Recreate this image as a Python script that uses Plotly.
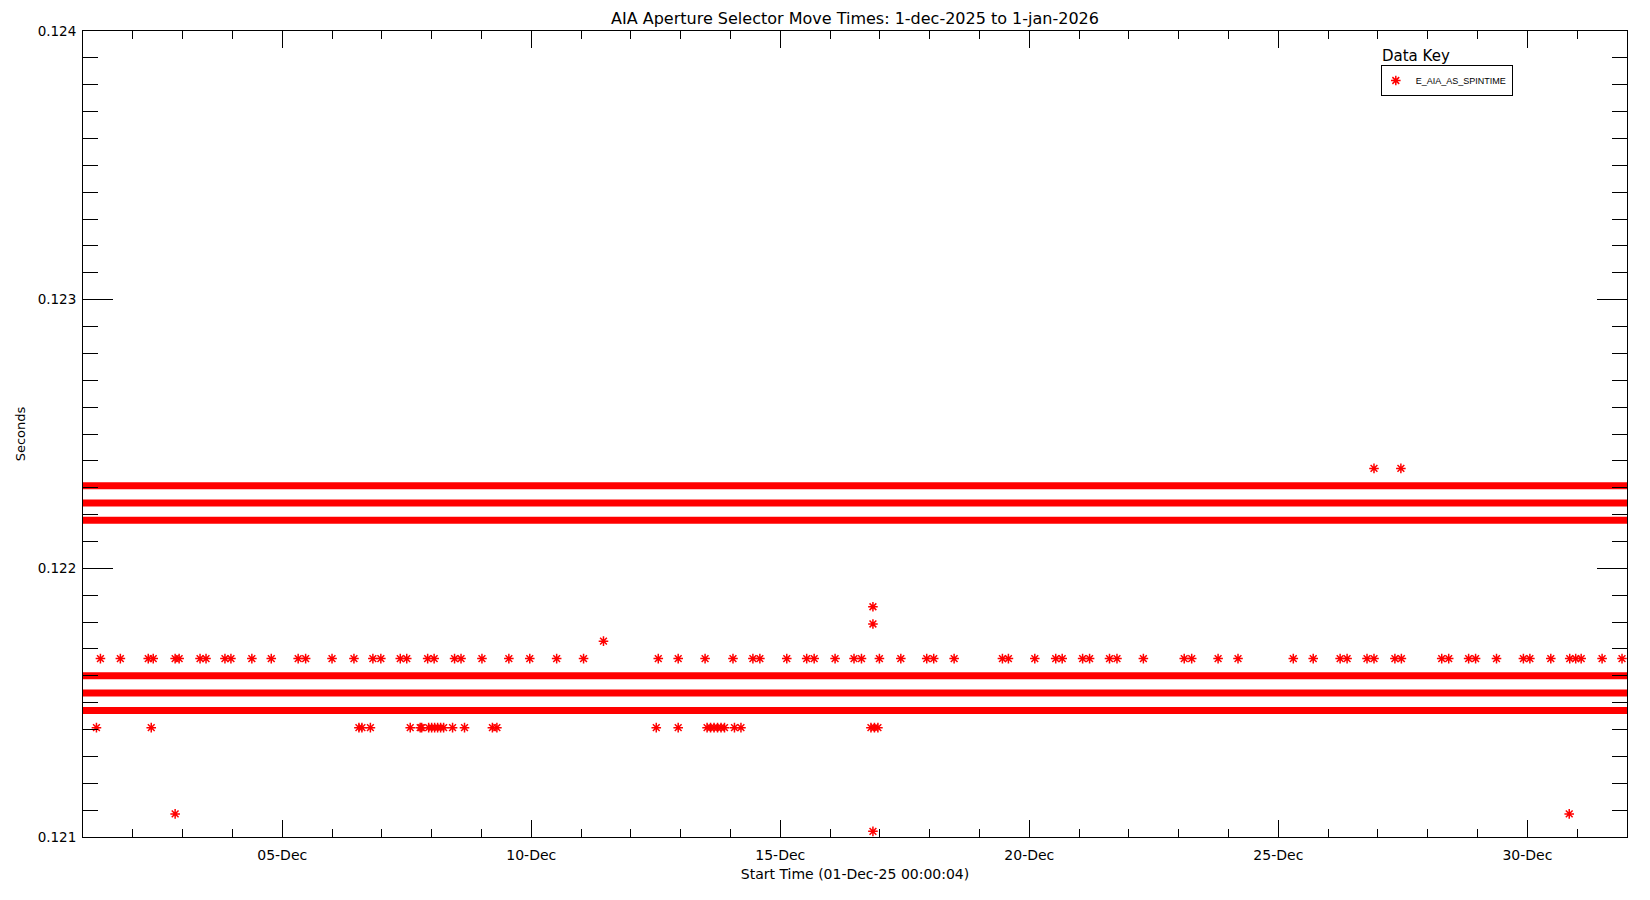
import pandas as pd
import plotly.graph_objects as go

# Zeitbasis: 01-Dec-2025 00:00:04, Werte in Tagen ab Start
START = pd.Timestamp("2025-12-01 00:00:04")

# dichte Baender (Sekundenwerte), laufen ueber den ganzen Monat
band_levels = [0.122307, 0.122243, 0.122179, 0.121600, 0.121536, 0.121471]
band_start_day = [0.0, 0.0, 0.0, 0.0, 0.0, 0.0]
band_end_day = [31.0, 31.0, 31.0, 31.0, 31.0, 31.0]

# Reihe bei 0.121664 s
row_a_level = 0.121664
row_a_days = [
    0.35, 0.75, 1.31, 1.41, 1.85, 1.93, 2.35, 2.47, 2.85, 2.97, 3.39, 3.78,
    4.32, 4.47, 5.00, 5.44, 5.82, 5.98, 6.37, 6.50, 6.92, 7.05, 7.46, 7.59,
    8.01, 8.55, 8.97, 9.51, 10.05, 11.55, 11.95, 12.49, 13.05, 13.45, 13.59,
    14.13, 14.53, 14.68, 15.10, 15.48, 15.63, 15.99, 16.42, 16.94, 17.08,
    17.49, 18.46, 18.58, 19.11, 19.53, 19.66, 20.07, 20.21, 20.61, 20.76,
    21.29, 22.11, 22.26, 22.79, 23.19, 24.30, 24.70, 25.24, 25.38, 25.78,
    25.92, 26.34, 26.47, 27.28, 27.42, 27.82, 27.96, 28.38, 28.92, 29.05,
    29.47, 29.85, 29.97, 30.08, 30.50, 30.90,
]

# Reihe bei 0.121407 s
row_b_level = 0.121407
row_b_days = [
    0.27, 1.37, 5.54, 5.60, 5.77, 6.57, 6.77, 6.80, 6.94, 7.00, 7.06, 7.12,
    7.18, 7.24, 7.42, 7.66, 8.22, 8.31, 11.51, 11.95, 12.53, 12.60, 12.67,
    12.74, 12.81, 12.88, 13.08, 13.21, 15.82, 15.89, 15.96,
]

# einzelne Ausreisser
outlier_days = [1.85, 29.84, 15.86, 15.86, 15.86, 10.45, 25.92, 26.46]
outlier_values = [0.121086, 0.121086, 0.121021, 0.121857, 0.121793,
                  0.121729, 0.122372, 0.122372]

RED = "#ff0000"
FONT = "DejaVu Sans"

# Seite hat 8px Body-Rand -> Figur etwas kleiner
W, H = 1634, 884


def to_time(days):
    return [START + pd.Timedelta(days=d) for d in days]


fig = go.Figure()

# Baender als breite Linien (tausende ueberlappende Sternchen)
for level, d0, d1 in zip(band_levels, band_start_day, band_end_day):
    fig.add_trace(
        go.Scatter(
            x=to_time([d0, d1]),
            y=[level, level],
            mode="lines",
            line=dict(color=RED, width=7),
            showlegend=False,
            hoverinfo="skip",
        )
    )

star = dict(symbol="asterisk-open", size=8, color=RED, line=dict(color=RED, width=1.5))

all_days = row_a_days + row_b_days + outlier_days
all_values = [row_a_level] * len(row_a_days) + [row_b_level] * len(row_b_days) + outlier_values

fig.add_trace(
    go.Scatter(
        x=to_time(all_days),
        y=all_values,
        mode="markers",
        marker=star,
        name="E_AIA_AS_SPINTIME",
        showlegend=True,
    )
)

fig.update_layout(
    width=W,
    height=H,
    paper_bgcolor="white",
    plot_bgcolor="white",
    margin=dict(l=70, r=15, t=23, b=55),
    font=dict(family=FONT, size=13, color="black"),
    title=dict(
        text="AIA Aperture Selector Move Times: 1-dec-2025 to 1-jan-2026",
        x=0.5,
        xref="paper",
        y=1 - 10.5 / H,
        yref="container",
        yanchor="middle",
        font=dict(family=FONT, size=16, color="black"),
    ),
    legend=dict(
        x=(1372 - 70) / 1549,
        y=(829 - 57) / 806,
        xanchor="left",
        yanchor="top",
        bordercolor="black",
        borderwidth=1,
        bgcolor="white",
        font=dict(family="Liberation Sans", size=9, color="black"),
        itemwidth=30,
        indentation=-6,
    ),
    showlegend=True,
)

fig.add_annotation(
    text="Data Key",
    xref="paper",
    yref="paper",
    x=(1371 - 70) / 1549,
    y=(829 - 48) / 806,
    xanchor="left",
    yanchor="middle",
    showarrow=False,
    font=dict(family=FONT, size=15, color="black"),
)

fig.update_xaxes(
    type="date",
    range=[pd.Timestamp("2025-12-01"), pd.Timestamp("2026-01-01")],
    tick0="2025-12-05",
    dtick=5 * 86400000,
    tickformat="%d-%b",
    ticks="inside",
    ticklen=17,
    tickwidth=1,
    tickcolor="black",
    ticklabelstandoff=5,
    minor=dict(dtick=86400000, tick0="2025-12-01", ticks="inside", ticklen=8,
               tickwidth=1, tickcolor="black", showgrid=False),
    showline=True,
    linecolor="black",
    linewidth=1,
    mirror="allticks",
    showgrid=False,
    zeroline=False,
    title=dict(text="Start Time (01-Dec-25 00:00:04)", standoff=7,
               font=dict(family=FONT, size=14)),
    tickfont=dict(family=FONT, size=14),
)

fig.update_yaxes(
    range=[0.121, 0.124],
    tick0=0.121,
    dtick=0.001,
    tickformat=".3f",
    ticks="inside",
    ticklen=30,
    tickwidth=1,
    tickcolor="black",
    ticklabelstandoff=3,
    minor=dict(dtick=0.0001, ticks="inside", ticklen=15, tickwidth=1,
               tickcolor="black", showgrid=False),
    showline=True,
    linecolor="black",
    linewidth=1,
    mirror="allticks",
    showgrid=False,
    zeroline=False,
    title=dict(text="Seconds", standoff=9, font=dict(family=FONT, size=13)),
    tickfont=dict(family=FONT, size=13.5),
)

fig.write_html("out.html")
